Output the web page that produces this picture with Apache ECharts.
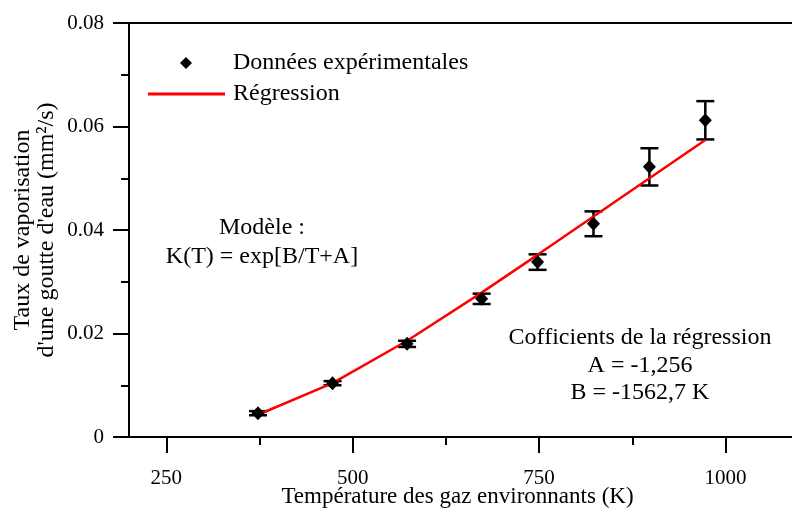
<!DOCTYPE html>
<html>
<head>
<meta charset="utf-8">
<script src="https://cdn.jsdelivr.net/npm/echarts@6/dist/echarts.min.js"></script>
<style>
  html, body { margin: 0; padding: 0; background: #fff; }
  #chart { width: 792px; height: 514px; }
</style>
</head>
<body>
<div id="chart"></div>
<script>
// températures mesurées (K)
const temperatures = [373, 473, 573, 673, 748, 823, 898, 973];
// taux de vaporisation mesurés (mm²/s)
const mesures = [0.0046, 0.0104, 0.0180, 0.0267, 0.0338, 0.0412, 0.0522, 0.0612];
// demi-largeur des barres d'erreur
const erreurs = [0.0004, 0.0004, 0.0006, 0.0010, 0.0015, 0.0024, 0.0036, 0.0037];
// courbe de régression
const regression = [0.0043, 0.0104, 0.0186, 0.0279, 0.0352, 0.0426, 0.0500, 0.0574];

const xMajor = [250, 500, 750, 1000];
const xMinor = [375, 625, 875];

const FONT = '"Liberation Serif", "Times New Roman", serif';

let chart = echarts.init(document.getElementById('chart'), null, { renderer: 'canvas' });

let pointsData = temperatures.map((t, i) => [t, mesures[i]]);
let errData = temperatures.map((t, i) => [t, mesures[i] - erreurs[i], mesures[i] + erreurs[i]]);
let regData = temperatures.map((t, i) => [t, regression[i]]);

// barre verticale + deux traits horizontaux
function renderErrorBar(params, api) {
    let p1 = api.coord([api.value(0), api.value(1)]);
    let p2 = api.coord([api.value(0), api.value(2)]);
    let half = 9;
    let style = { stroke: '#000', lineWidth: 2.5 };
    return {
        type: 'group',
        children: [
            { type: 'line', shape: { x1: p1[0], y1: p1[1], x2: p2[0], y2: p2[1] }, style: style },
            { type: 'line', shape: { x1: p1[0] - half, y1: p1[1], x2: p1[0] + half, y2: p1[1] }, style: style },
            { type: 'line', shape: { x1: p2[0] - half, y1: p2[1], x2: p2[0] + half, y2: p2[1] }, style: style }
        ]
    };
}

function annot(text, x, y) {
    return {
        type: 'text', x: x, y: y,
        style: { text: text, font: '24px ' + FONT, fill: '#000', textAlign: 'center', textVerticalAlign: 'middle' }
    };
}

let option = {
    backgroundColor: '#fff',
    animation: false,
    textStyle: { fontFamily: FONT },
    grid: {
        left: 129, top: 23, bottom: 77, right: -8,
        outerBoundsMode: 'none',
        containLabel: false,
        show: true, borderColor: '#000', borderWidth: 2
    },
    legend: [
        {
            left: 175, top: 46,
            itemWidth: 12, itemHeight: 12,
            data: [{ name: 'Données expérimentales', icon: 'diamond', itemStyle: { color: '#000' } }],
            textStyle: { fontFamily: FONT, fontSize: 24, color: '#000', padding: [0, 0, 0, 36] }
        },
        {
            left: 143, top: 77,
            itemWidth: 77, itemHeight: 3,
            data: [{ name: 'Régression', icon: 'rect', itemStyle: { color: '#ff0000' } }],
            textStyle: { fontFamily: FONT, fontSize: 24, color: '#000', padding: [0, 0, 0, 3] }
        }
    ],
    xAxis: [
        {
            type: 'value', min: 200, max: 1100,
            name: 'Température des gaz environnants (K)',
            nameLocation: 'middle', nameGap: 48, nameMoveOverlap: false,
            nameTextStyle: { fontFamily: FONT, fontSize: 23, color: '#000', padding: [0, 14, 0, 0] },
            axisLine: { show: true, lineStyle: { color: '#000', width: 2 } },
            axisTick: { show: true, inside: false, length: 16, lineStyle: { color: '#000', width: 2 }, customValues: xMajor },
            axisLabel: { margin: 31, fontFamily: FONT, fontSize: 21, color: '#000', customValues: xMajor, formatter: (v) => String(v) },
            splitLine: { show: false }
        },
        {
            type: 'value', min: 200, max: 1100, position: 'bottom',
            axisLine: { show: false },
            axisTick: { show: true, inside: false, length: 8, lineStyle: { color: '#000', width: 2 }, customValues: xMinor },
            axisLabel: { show: false },
            splitLine: { show: false }
        }
    ],
    yAxis: {
        type: 'value', min: 0, max: 0.08, interval: 0.02,
        name: 'Taux de vaporisation\nd\'une goutte d\'eau (mm²/s)',
        nameLocation: 'middle', nameGap: 70, nameRotate: 90, nameMoveOverlap: false,
        nameTextStyle: { fontFamily: FONT, fontSize: 24, color: '#000', lineHeight: 24 },
        axisLine: { show: true, lineStyle: { color: '#000', width: 2 } },
        axisTick: { show: true, inside: false, length: 16, lineStyle: { color: '#000', width: 2 } },
        minorTick: { show: true, splitNumber: 2, length: 8, lineStyle: { color: '#000', width: 2 } },
        axisLabel: { margin: 25, fontFamily: FONT, fontSize: 21, color: '#000' },
        splitLine: { show: false },
        minorSplitLine: { show: false }
    },
    series: [
        {
            name: 'Régression',
            type: 'line',
            data: regData,
            showSymbol: false,
            symbol: 'none',
            color: '#ff0000',
            lineStyle: { color: '#ff0000', width: 2.5 },
            z: 3
        },
        {
            name: 'Données expérimentales',
            type: 'custom',
            data: errData,
            renderItem: renderErrorBar,
            itemStyle: { color: '#000' },
            z: 2
        },
        {
            name: 'Données expérimentales',
            type: 'scatter',
            data: pointsData,
            symbol: 'diamond',
            symbolSize: [13, 14],
            itemStyle: { color: '#000', opacity: 1 },
            z: 4
        }
    ],
    graphic: [
        annot('Modèle :', 262, 228),
        annot('K(T) = exp[B/T+A]', 262, 257),
        annot('Cofficients de la régression', 640, 338),
        annot('A = -1,256', 640, 366),
        annot('B = -1562,7 K', 640, 393)
    ]
};

chart.setOption(option);
</script>
</body>
</html>
